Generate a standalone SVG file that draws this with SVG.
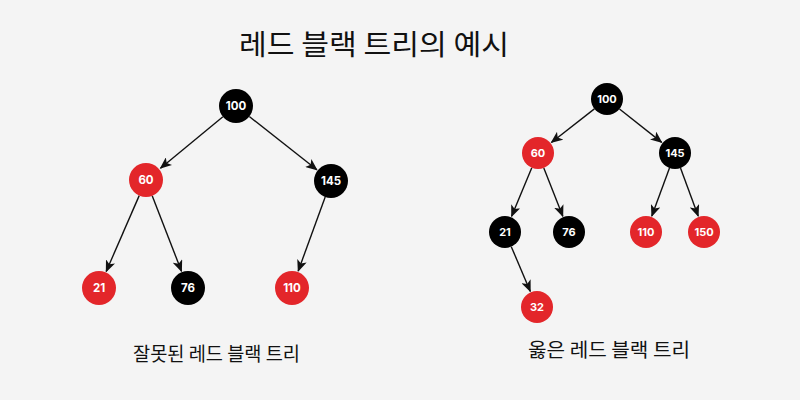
<svg xmlns="http://www.w3.org/2000/svg" width="800" height="400" viewBox="0 0 800 400">
<defs>
<marker id="arr" markerUnits="userSpaceOnUse" markerWidth="12" markerHeight="10" viewBox="0 0 12 10" refX="11" refY="5" orient="auto">
<path d="M0,0 L12,5 L0,10 L3,5 Z" fill="#111"/>
</marker>
<style>
.bg{fill:#f4f4f4}
.edge{stroke:#111;stroke-width:1.4;fill:none;marker-end:url(#arr)}
.r{fill:#e3262a}
.b{fill:#000}
.lbl{font-family:Inter,"Open Sans","DejaVu Sans",sans-serif;font-weight:700;fill:#fff;text-anchor:middle;dominant-baseline:central}
.l1{font-size:11.5px}
.l2{font-size:11px}
.kr{font-family:"Noto Sans CJK KR","Noto Sans",sans-serif;fill:#111}
</style>
</defs>
<rect class="bg" x="0" y="0" width="800" height="400"/>
<text class="kr" x="239" y="55" font-size="28" textLength="270" lengthAdjust="spacingAndGlyphs">레드 블랙 트리의 예시</text>
<text class="kr" x="133" y="361" font-size="19.5" textLength="167" lengthAdjust="spacingAndGlyphs">잘못된 레드 블랙 트리</text>
<text class="kr" x="528" y="357" font-size="19.5" textLength="162" lengthAdjust="spacingAndGlyphs">옳은 레드 블랙 트리</text>
<g id="connectors">
<line class="edge" x1="222.9" y1="116.8" x2="160.5" y2="168.2"/>
<line class="edge" x1="249.3" y1="116.5" x2="316.9" y2="169.8"/>
<line class="edge" x1="139.2" y1="195.6" x2="106.2" y2="271.5"/>
<line class="edge" x1="152.2" y1="195.8" x2="181.5" y2="271.2"/>
<line class="edge" x1="325.2" y1="197" x2="298.2" y2="271.1"/>
<line class="edge" x1="594.4" y1="108.9" x2="551.4" y2="142.5"/>
<line class="edge" x1="619.5" y1="109" x2="661.7" y2="142.4"/>
<line class="edge" x1="531.8" y1="167.8" x2="511.6" y2="216.3"/>
<line class="edge" x1="543.8" y1="167.9" x2="562.8" y2="216.2"/>
<line class="edge" x1="669.5" y1="168" x2="651.8" y2="216.1"/>
<line class="edge" x1="680.5" y1="168" x2="698.2" y2="216.1"/>
<line class="edge" x1="511.3" y1="246.7" x2="530.3" y2="291.4"/>
</g>
<g id="w100"><circle class="b" cx="236" cy="106" r="17"/><text class="lbl l1" x="236" y="106">100</text></g>
<g id="w60"><circle class="r" cx="146" cy="180" r="17"/><text class="lbl l1" x="146" y="180">60</text></g>
<g id="w145"><circle class="b" cx="331" cy="181" r="17"/><text class="lbl l1" x="331" y="181">145</text></g>
<g id="w21"><circle class="r" cx="99" cy="288" r="17"/><text class="lbl l1" x="99" y="288">21</text></g>
<g id="w76"><circle class="b" cx="188" cy="288" r="17"/><text class="lbl l1" x="188" y="288">76</text></g>
<g id="w110"><circle class="r" cx="292" cy="288" r="17"/><text class="lbl l1" x="292" y="288">110</text></g>
<g id="c100"><circle class="b" cx="607" cy="99" r="16"/><text class="lbl l2" x="607" y="99">100</text></g>
<g id="c60"><circle class="r" cx="538" cy="153" r="16"/><text class="lbl l2" x="538" y="153">60</text></g>
<g id="c145"><circle class="b" cx="675" cy="153" r="16"/><text class="lbl l2" x="675" y="153">145</text></g>
<g id="c21"><circle class="b" cx="505" cy="232" r="16"/><text class="lbl l2" x="505" y="232">21</text></g>
<g id="c76"><circle class="b" cx="569" cy="232" r="16"/><text class="lbl l2" x="569" y="232">76</text></g>
<g id="c110"><circle class="r" cx="646" cy="232" r="16"/><text class="lbl l2" x="646" y="232">110</text></g>
<g id="c150"><circle class="r" cx="704" cy="232" r="16"/><text class="lbl l2" x="704" y="232">150</text></g>
<g id="c32"><circle class="r" cx="537" cy="307" r="16"/><text class="lbl l2" x="537" y="307">32</text></g>
</svg>
